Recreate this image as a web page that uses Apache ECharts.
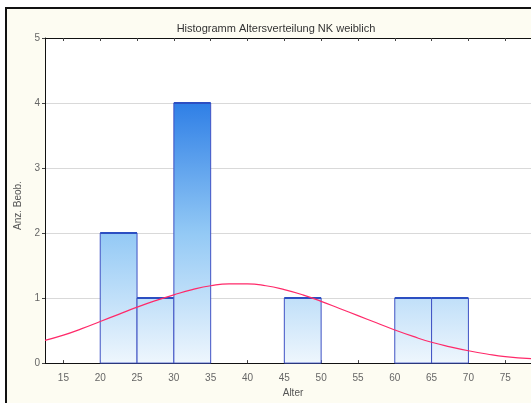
<!DOCTYPE html>
<html>
<head>
<meta charset="utf-8">
<script src="https://cdn.jsdelivr.net/npm/echarts@6/dist/echarts.min.js"></script>
<style>
  html, body { margin: 0; padding: 0; background: #ffffff; }
  #chart { width: 531px; height: 403px; }
</style>
</head>
<body>
<div id="chart"></div>
<script>
// Age classes (lower bound, upper bound) and number of observations per class
const binStarts = [20, 25, 30, 45, 60, 65];
const binEnds   = [25, 30, 35, 50, 65, 70];
const counts    = [2, 1, 4, 1, 1, 1];

// Fitted normal curve, read at selected ages
const curveAges   = [12.5, 15, 17.5, 20, 22.5, 25, 27.5, 30, 32.5, 35, 37.5, 40, 42.5, 45, 47.5, 50,
                     52.5, 55, 57.5, 60, 62.5, 65, 67.5, 70, 72.5, 75, 78.5];
const curveValues = [0.35, 0.43, 0.53, 0.64, 0.75, 0.86, 0.96, 1.05, 1.13, 1.19, 1.22, 1.22, 1.19, 1.13, 1.05, 0.95,
                     0.84, 0.73, 0.62, 0.51, 0.41, 0.32, 0.25, 0.19, 0.14, 0.10, 0.07];

// Axis tick labels
const xTicks = [15, 20, 25, 30, 35, 40, 45, 50, 55, 60, 65, 70, 75];
const yTicks = [0, 1, 2, 3, 4, 5];

const bars = binStarts.map((s, i) => [s, binEnds[i], counts[i]]);
const curve = curveAges.map((a, i) => [a, curveValues[i]]);

const font = '"Liberation Sans", Arial, sans-serif';
const chart = echarts.init(document.getElementById('chart'), null, { renderer: 'canvas' });

chart.setOption({
  backgroundColor: '#ffffff',
  animation: false,
  graphic: [{
    type: 'rect',
    z: -10,
    shape: { x: 6, y: 8, width: 540, height: 410 },
    style: { fill: '#fdfcf2', stroke: '#111111', lineWidth: 2 }
  }],
  title: {
    text: 'Histogramm Altersverteilung NK weiblich',
    left: 271, top: 18, textAlign: 'center',
    textStyle: { fontFamily: font, fontSize: 11, fontWeight: 'normal', color: '#333333' }
  },
  grid: {
    left: 45, right: 0, top: 38, bottom: 39,
    show: true, backgroundColor: '#ffffff', borderWidth: 0
  },
  xAxis: [{
    type: 'value', min: 12.5, max: 78.5,
    name: 'Alter', nameLocation: 'middle', nameGap: 22,
    nameTextStyle: { fontFamily: font, fontSize: 10, color: '#555555', padding: [0, 0, 0, 10] },
    axisLine: { show: true, lineStyle: { color: '#111111' } },
    axisTick: { show: true, inside: true, length: 3, customValues: xTicks, lineStyle: { color: '#444444' } },
    axisLabel: { customValues: xTicks, fontFamily: font, fontSize: 10, color: '#666666', margin: 10 },
    splitLine: { show: false }
  }, {
    type: 'value', min: 12.5, max: 78.5, position: 'top',
    axisLine: { show: true, onZero: false, lineStyle: { color: '#111111' } },
    axisTick: { show: true, inside: true, length: 3, customValues: xTicks, lineStyle: { color: '#444444' } },
    axisLabel: { show: false },
    splitLine: { show: false }
  }],
  yAxis: {
    type: 'value', min: 0, max: 5, interval: 1,
    name: 'Anz. Beob.', nameLocation: 'middle', nameGap: 14,
    nameTextStyle: { fontFamily: font, fontSize: 10, color: '#555555', padding: [0, 0, 0, -10] },
    axisLine: { show: true, lineStyle: { color: '#111111' } },
    axisTick: { show: true, length: 3, lineStyle: { color: '#444444' } },
    axisLabel: { fontFamily: font, fontSize: 10, color: '#666666', margin: 5,
                 formatter: v => yTicks.includes(v) ? String(v) : '' },
    splitLine: { show: true, lineStyle: { color: '#d9d9d9', width: 1 } }
  },
  series: [
    {
      type: 'custom',
      data: bars,
      encode: { x: [0, 1], y: 2 },
      renderItem: function (params, api) {
        const p0 = api.coord([api.value(0), api.value(2)]);
        const p1 = api.coord([api.value(1), 0]);
        const top = api.coord([0, 4])[1];
        const base = api.coord([0, 0])[1];
        const fill = {
          type: 'linear', x: 0, y: top, x2: 0, y2: base, global: true,
          colorStops: [
            { offset: 0, color: '#2f7fe6' },
            { offset: 0.5, color: '#93c9f5' },
            { offset: 1, color: '#eef6fd' }
          ]
        };
        return {
          type: 'group',
          children: [
            {
              type: 'rect',
              shape: { x: p0[0], y: p0[1], width: p1[0] - p0[0], height: p1[1] - p0[1] },
              style: { fill: fill, stroke: '#3f52c4', lineWidth: 1 }
            },
            {
              type: 'line',
              shape: { x1: p0[0], y1: p0[1], x2: p1[0], y2: p0[1] },
              style: { stroke: '#2c4fc2', lineWidth: 2 }
            }
          ]
        };
      },
      z: 2
    },
    {
      type: 'line',
      data: curve,
      smooth: true,
      symbol: 'none',
      lineStyle: { color: '#ff2a6a', width: 1.2 },
      z: 3
    }
  ]
});
</script>
</body>
</html>
